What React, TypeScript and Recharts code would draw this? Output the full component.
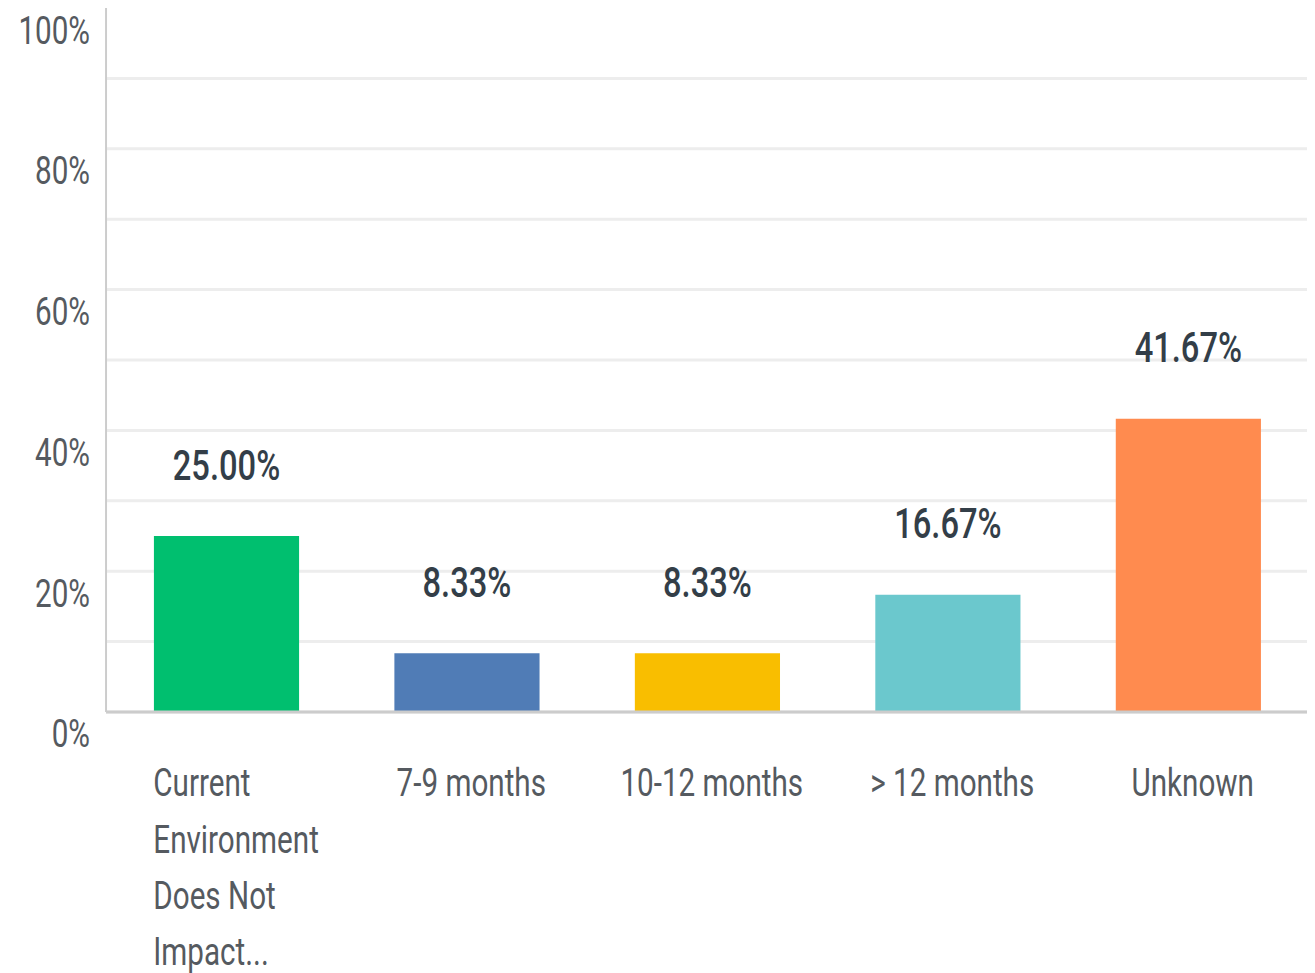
import { BarChart, Bar, XAxis, YAxis, CartesianGrid, Cell, LabelList } from "recharts";

const categories = [
  "Current Environment Does Not Impact...",
  "7-9 months",
  "10-12 months",
  "> 12 months",
  "Unknown",
];
const values = [25.0, 8.33, 8.33, 16.67, 41.67];
const colors = ["#00bf6f", "#507cb6", "#f9be00", "#6bc8cd", "#ff8b4f"];
const gridTicks = [0, 10, 20, 30, 40, 50, 60, 70, 80, 90, 100];
const labelTicks = [0, 20, 40, 60, 80, 100];

const data = categories.map((name, i) => ({ name, value: values[i] }));

// the reference font is narrow, so the whole chart is squeezed horizontally
const SX = 0.76;
const W = 1711;
const H = 965;
const FONT = "Roboto, 'Noto Sans', sans-serif";

const wrap = (text: string, max = 12) => {
  const lines: string[] = [];
  let cur = "";
  text.split(" ").forEach((w) => {
    const next = cur ? cur + " " + w : w;
    if (next.length > max && cur) {
      lines.push(cur);
      cur = w;
    } else cur = next;
  });
  if (cur) lines.push(cur);
  return lines;
};

const YTick = (props: any) => {
  const { x, y, payload } = props;
  if (!labelTicks.includes(payload.value)) return <g />;
  return (
    <text
      x={x}
      y={y + 22}
      textAnchor="end"
      dominantBaseline="central"
      fontSize={39}
      fill="#555a60"
      fontFamily={FONT}
    >
      {payload.value}%
    </text>
  );
};

const XTick = (props: any) => {
  const { x, y, payload } = props;
  const lines = wrap(payload.value);
  const multi = lines.length > 1;
  return (
    <text
      x={multi ? x - 96 : x + 6}
      y={y + 71}
      textAnchor={multi ? "start" : "middle"}
      dominantBaseline="central"
      fontSize={39}
      fill="#555a60"
      fontFamily={FONT}
    >
      {lines.map((l, i) => (
        <tspan key={i} x={multi ? x - 96 : x + 6} dy={i === 0 ? 0 : 56}>
          {l}
        </tspan>
      ))}
    </text>
  );
};

const ValueLabel = (props: any) => {
  const { x, y, width, value } = props;
  return (
    <text
      x={x + width / 2}
      y={y - 71}
      textAnchor="middle"
      dominantBaseline="central"
      fontSize={43}
      fontWeight={500}
      fill="#333e48"
      fontFamily={FONT}
    >
      {Number(value).toFixed(2)}%
    </text>
  );
};

export default function App() {
  return (
    <div style={{ width: 1300, height: H, overflow: "hidden" }}>
      <div style={{ width: W, transform: `scaleX(${SX})`, transformOrigin: "0 0" }}>
        <BarChart
          width={W}
          height={H}
          data={data}
          margin={{ top: 0, right: 0, bottom: 0, left: 0 }}
          barSize={191}
        >
          {/* no line at 100% in the reference */}
          <CartesianGrid
            vertical={false}
            stroke="#ededed"
            strokeWidth={3}
            horizontalValues={gridTicks.filter((t) => t < 100)}
          />
          <XAxis
            dataKey="name"
            height={261}
            interval={0}
            tickLine={false}
            tickSize={0}
            tickMargin={0}
            axisLine={{ stroke: "#cccccc", strokeWidth: 3 }}
            tick={<XTick />}
          />
          <YAxis
            width={129}
            domain={[0, 100]}
            ticks={gridTicks}
            interval={0}
            tickLine={false}
            tickSize={0}
            tickMargin={21}
            axisLine={{ stroke: "#cccccc", strokeWidth: 2.6 }}
            tick={<YTick />}
          />
          <Bar dataKey="value" isAnimationActive={false}>
            {data.map((d, i) => (
              <Cell key={d.name} fill={colors[i]} />
            ))}
            <LabelList dataKey="value" content={<ValueLabel />} />
          </Bar>
        </BarChart>
      </div>
    </div>
  );
}
